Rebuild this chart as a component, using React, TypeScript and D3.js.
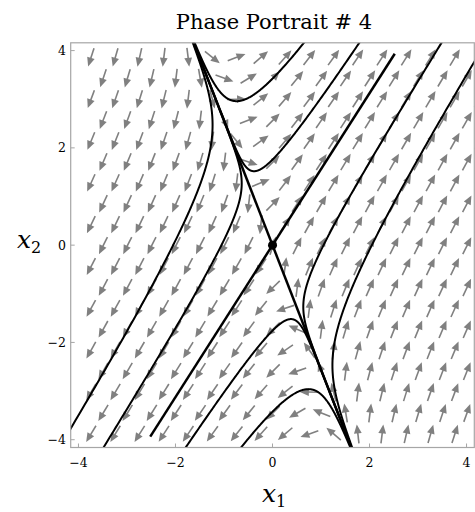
import React from "react";
import * as d3 from "d3";

// System x' = A x
const matrixRow1 = [2, 1];
const matrixRow2 = [4, 1];

// Trajectory seed points
const seedX = [-0.74, -0.38, 0.74, 0.38, -1.25, -0.645, 1.25, 0.645];
const seedY = [2.96, 1.52, -2.96, -1.52, 2.20, 1.106, -2.20, -1.106];

// unstable manifold drawn out to this x-extent on both sides
const unstableExtent = [2.52, -2.52];

// arrow sampling grid (data units)
const arrowX0 = -3.74;
const arrowY0 = 3.86;
const arrowDX = 0.5;
const arrowDY = 0.43;
const arrowRows = 19;

const tickValues = [-4, -2, 0, 2, 4];
const domainLim = [-4.16, 4.16];

const W = 475;
const H = 512;

const field = (x: number, y: number): [number, number] => [
  matrixRow1[0] * x + matrixRow1[1] * y,
  matrixRow2[0] * x + matrixRow2[1] * y,
];

function integrate(x0: number, y0: number, dir: number): [number, number][] {
  const pts: [number, number][] = [[x0, y0]];
  let x = x0, y = y0;
  const h = 0.004 * dir;
  const lim = 4.4;
  for (let i = 0; i < 8000; i++) {
    const k1 = field(x, y);
    const k2 = field(x + (h / 2) * k1[0], y + (h / 2) * k1[1]);
    const k3 = field(x + (h / 2) * k2[0], y + (h / 2) * k2[1]);
    const k4 = field(x + h * k3[0], y + h * k3[1]);
    x += (h / 6) * (k1[0] + 2 * k2[0] + 2 * k3[0] + k4[0]);
    y += (h / 6) * (k1[1] + 2 * k2[1] + 2 * k3[1] + k4[1]);
    pts.push([x, y]);
    if (Math.abs(x) > lim || Math.abs(y) > lim) break;
  }
  return pts;
}

export default function App() {
  const xScale = d3.scaleLinear().domain(domainLim).range([70.7, 474.3]);
  const yScale = d3.scaleLinear().domain(domainLim).range([447.5, 42.8]);
  const [x0, x1] = xScale.range();
  const [y1, y0] = yScale.range();

  const line = d3
    .line<[number, number]>()
    .x((d) => xScale(d[0]))
    .y((d) => yScale(d[1]))
    .curve(d3.curveLinear);

  // eigen-analysis
  const a = matrixRow1[0], b = matrixRow1[1], c = matrixRow2[0], d = matrixRow2[1];
  const tr = a + d, det = a * d - b * c;
  const disc = Math.sqrt(tr * tr - 4 * det);
  const lamU = (tr + disc) / 2;
  const lamS = (tr - disc) / 2;
  const vU: [number, number] = [b, lamU - a];
  const vS: [number, number] = [b, lamS - a];

  const trajectories = seedX.map((sx, i) => {
    const back = integrate(sx, seedY[i], -1).reverse();
    const fwd = integrate(sx, seedY[i], 1);
    return back.concat(fwd.slice(1));
  });

  const stablePts: [number, number][] = [
    [-vS[0] * 3, -vS[1] * 3],
    [vS[0] * 3, vS[1] * 3],
  ];
  const unstableLines = unstableExtent.map((ex) => {
    const s = ex / vU[0];
    return [
      [0, 0],
      [vU[0] * s, vU[1] * s],
    ] as [number, number][];
  });

  // arrows
  const arrows: { cx: number; cy: number; ux: number; uy: number }[] = [];
  for (let j = 0; j < arrowRows; j++) {
    const yy = arrowY0 - j * arrowDY;
    const off = j % 2 === 1 ? arrowDX / 2 : 0;
    for (let i = 0; i < 20; i++) {
      const xx = arrowX0 + off + i * arrowDX;
      if (xx > domainLim[1] + 0.1) break;
      const f = field(xx, yy);
      const px = f[0] * (xScale(1) - xScale(0));
      const py = f[1] * (yScale(1) - yScale(0));
      const n = Math.hypot(px, py) || 1;
      arrows.push({ cx: xScale(xx), cy: yScale(yy), ux: px / n, uy: py / n });
    }
  }
  const L = 19, headL = 9, headW = 3.9;

  const fmt = (v: number) => (v < 0 ? "\u2212" + Math.abs(v) : String(v));

  return (
    <svg
      width={W}
      height={H}
      style={{ position: "absolute", left: 0, top: 0, background: "#fff" }}
      fontFamily="'DejaVu Serif', serif"
    >
      <defs>
        <clipPath id="plotClip">
          <rect x={x0} y={y0} width={x1 - x0} height={y1 - y0} />
        </clipPath>
      </defs>
      <text x={274} y={29} textAnchor="middle" fontSize={21} fill="#000">
        Phase Portrait # 4
      </text>

      <g clipPath="url(#plotClip)">
        {arrows.map((ar, k) => {
          const tx = ar.cx - (ar.ux * L) / 2, ty = ar.cy - (ar.uy * L) / 2;
          const hx = ar.cx + (ar.ux * L) / 2, hy = ar.cy + (ar.uy * L) / 2;
          const bx = hx - ar.ux * headL, by = hy - ar.uy * headL;
          const nx = -ar.uy, ny = ar.ux;
          return (
            <g key={k} fill="#808080" stroke="#808080">
              <line x1={tx} y1={ty} x2={bx + ar.ux} y2={by + ar.uy} strokeWidth={1.6} />
              <polygon
                stroke="none"
                points={`${hx},${hy} ${bx + nx * headW},${by + ny * headW} ${bx - nx * headW},${by - ny * headW}`}
              />
            </g>
          );
        })}
        {trajectories.map((t, i) => (
          <path key={i} d={line(t) || ""} fill="none" stroke="#000" strokeWidth={2} />
        ))}
        <path d={line(stablePts) || ""} fill="none" stroke="#000" strokeWidth={2.5} />
        {unstableLines.map((u, i) => (
          <path key={i} d={line(u) || ""} fill="none" stroke="#000" strokeWidth={2.5} />
        ))}
        <circle cx={xScale(0)} cy={yScale(0)} r={4.5} fill="#000" />
      </g>

      <rect x={x0} y={y0} width={x1 - x0} height={y1 - y0} fill="none" stroke="#a6a6a6" strokeWidth={1.2} />
      {tickValues.map((v) => (
        <g key={"x" + v}>
          <line x1={xScale(v)} x2={xScale(v)} y1={y1} y2={y1 - 4} stroke="#a6a6a6" strokeWidth={1} />
          <text x={xScale(v)} y={467} textAnchor="middle" fontSize={12.5} fill="#000">
            {fmt(v)}
          </text>
        </g>
      ))}
      {tickValues.map((v) => (
        <g key={"y" + v}>
          <line x1={x0} x2={x0 + 4} y1={yScale(v)} y2={yScale(v)} stroke="#a6a6a6" strokeWidth={1} />
          <text x={66} y={yScale(v) + 4.5} textAnchor="end" fontSize={12.5} fill="#000">
            {fmt(v)}
          </text>
        </g>
      ))}
      <text x={262} y={502} fontSize={25} fontStyle="italic" fill="#000">
        x<tspan fontSize={16} fontStyle="normal" dy={5}>1</tspan>
      </text>
      <text x={17} y={248} fontSize={25} fontStyle="italic" fill="#000">
        x<tspan fontSize={16} fontStyle="normal" dy={5}>2</tspan>
      </text>
    </svg>
  );
}
